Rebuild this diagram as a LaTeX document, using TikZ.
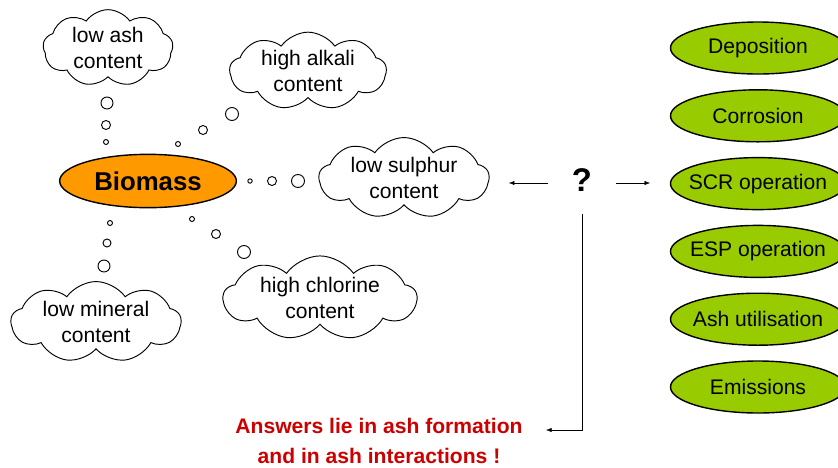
\documentclass[tikz,border=0pt]{standalone}
\usepackage{fontspec}
\setmainfont{Liberation Sans}
\usetikzlibrary{arrows.meta,shapes.geometric,shapes.symbols}
\definecolor{biomass}{RGB}{255,153,0}
\definecolor{effect}{RGB}{153,204,0}
\definecolor{answer}{RGB}{204,0,0}
\begin{document}
\begin{tikzpicture}[x=0.03cm,y=-0.03cm,>=Latex,
  every node/.style={font=\fontsize{18}{21.5}\selectfont,align=center},
  thought/.style={draw,cloud,cloud puffs=9,cloud puff arc=110,cloud ignores aspect,inner sep=0pt,line width=0.8pt},
  effect/.style={draw,ellipse,fill=effect,line width=1.2pt,inner sep=0pt,minimum width=5.25cm,minimum height=1.56cm}]
\useasboundingbox (0,0) rectangle (838,467);
\node[draw,ellipse,fill=biomass,line width=1.2pt,minimum width=5.3cm,minimum height=1.6cm,
  font=\fontsize{22}{26}\selectfont\bfseries] (bio) at (148,181) {Biomass};
\node[thought,minimum width=3.9cm,minimum height=2.3cm] (ash) at (108,48) {low ash\\content};
\node[thought,minimum width=4.7cm,minimum height=2.2cm] (alk) at (308,71) {high alkali\\content};
\node[thought,minimum width=5.1cm,minimum height=2.1cm] (sul) at (404,178) {low sulphur\\content};
\node[thought,minimum width=5.8cm,minimum height=2.2cm] (chl) at (320,298) {high chlorine\\content};
\node[thought,minimum width=5.1cm,minimum height=2.25cm] (min) at (96,322) {low mineral\\content};
% thought bubbles
\foreach \x/\y/\r in {107/103/6,106/125/4.5,106/142/2.5, 232/114/6.5,203/130/4.5,178/144/2.5,
  298/181/6.5,272/181/4.5,250/181/2.2, 110/223/2.5,107/243/4,104/266/6, 192/219/2.5,216/234/4.5,244/252/6.5}
  \draw[line width=0.8pt] (\x,\y) circle[radius=\r*0.03cm];
\node[minimum width=2cm,minimum height=2cm,inner sep=0pt,font=\fontsize{28}{30}\selectfont\bfseries] (q) at (582,180) {?};
\foreach \t [count=\i] in {Deposition,Corrosion,SCR operation,ESP operation,Ash utilisation,Emissions}
  \node[effect] (e\i) at (758,{48+67.8*(\i-1)}) {\makebox[0pt]{\t}};
\node[text=answer,font=\fontsize{18}{25}\selectfont\bfseries] (ans) at (379,441) {Answers lie in ash formation\\and in ash interactions !};
\coordinate (ansin) at (546,430);
\draw[->,shorten >=0.57cm] ([yshift=-0.09cm]q.west) -- ([yshift=-0.09cm]q.west -| sul.east);
\draw[->,shorten >=0.59cm] ([yshift=-0.09cm]q.east) -- ([yshift=-0.09cm]q.east -| e3.west);
\draw[->] (q.south) |- (ansin);
\end{tikzpicture}
\end{document}
